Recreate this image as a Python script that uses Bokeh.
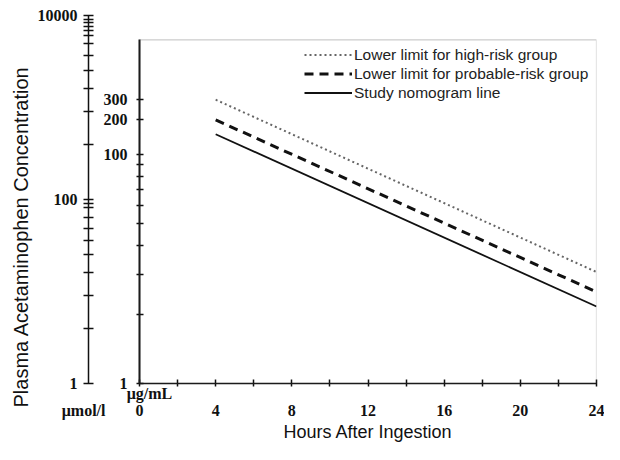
import math
from bokeh.plotting import figure
from bokeh.models import (Range1d, LogScale, LogAxis, FixedTicker, NumeralTickFormatter,
                          BoxAnnotation, Title)
from bokeh.embed import file_html
from bokeh.resources import INLINE

# ---- data ----
hours = [4, 24]
high_risk = [300, 9.4]        # ug/mL, lower limit for high-risk group
probable_risk = [200, 6.3]    # ug/mL, lower limit for probable-risk group
study_line = [150, 4.7]       # ug/mL, study nomogram line

x_ticks = [0, 4, 8, 12, 16, 20, 24]
x_minor = [2, 6, 10, 14, 18, 22]
umol_ticks = [1, 100, 10000]
umol_minor = [4, 9, 16, 25, 36, 49, 64, 81, 90,
              400, 900, 1600, 2500, 3700, 5000, 6000, 6800, 7600, 8400, 9100]
ugml_ticks = [1, 100, 200, 300]
ugml_minor = [4, 9, 16, 25, 36, 49, 64, 81]
unit_ugml = "μg/mL"
unit_umol = "μmol/l"

SERIF = "Liberation Serif"
SANS = "Liberation Sans"
INK = "#111111"
NB = "\u00a0"

p = figure(width=604, height=444, output_backend="svg", toolbar_location=None,
           x_range=Range1d(0, 24), y_range=Range1d(1, 10000),
           y_axis_type="log", y_axis_location=None,
           min_border_left=139, min_border_right=8, min_border_top=15, min_border_bottom=61)
p.outline_line_color = None
p.xgrid.visible = False
p.ygrid.visible = False

p.extra_y_ranges = {"inner": Range1d(1, 1630)}
p.extra_y_scales = {"inner": LogScale()}

# inner (ug/mL) axis, next to the frame
inner = LogAxis(y_range_name="inner",
                ticker=FixedTicker(ticks=ugml_ticks, minor_ticks=ugml_minor),
                formatter=NumeralTickFormatter(format="0"), bounds=(1, 1000))
inner.axis_line_width = 2
inner.axis_line_color = INK
inner.major_tick_in = 4
inner.major_tick_out = 3
inner.minor_tick_in = 4
inner.minor_tick_out = 3
inner.major_tick_line_width = 1.5
inner.minor_tick_line_width = 1.5
inner.major_tick_line_color = INK
inner.minor_tick_line_color = INK
inner.major_label_text_font = SERIF
inner.major_label_text_font_style = "bold"
inner.major_label_text_font_size = "16px"
inner.major_label_text_color = INK
inner.major_label_standoff = 9
# non-breaking spaces only widen the label column so the outer axis sits further left
inner.major_label_overrides = {300: NB * 3 + "300"}
p.add_layout(inner, "left")

# outer (umol/l) axis; trailing non-breaking spaces let the unit line reach past the numbers
outer = LogAxis(ticker=FixedTicker(ticks=umol_ticks, minor_ticks=umol_minor),
                formatter=NumeralTickFormatter(format="0"), bounds=(1, 10000))
outer.axis_line_width = 1.5
outer.axis_line_color = INK
outer.major_tick_in = 5
outer.major_tick_out = 5
outer.minor_tick_in = 5
outer.minor_tick_out = 5
outer.major_tick_line_width = 1.5
outer.minor_tick_line_width = 1.5
outer.major_tick_line_color = INK
outer.minor_tick_line_color = INK
outer.major_label_text_font = SERIF
outer.major_label_text_font_style = "bold"
outer.major_label_text_font_size = "16px"
outer.major_label_text_color = INK
outer.major_label_text_line_height = 1.6
outer.major_label_standoff = -22
outer_labels = {t: str(t) + NB * 7 for t in umol_ticks}
outer_labels[1] = "\n1" + NB * 7 + "\n" + unit_umol
outer.major_label_overrides = outer_labels
p.add_layout(outer, "left")

# y axis title as an outer left title
p.add_layout(Title(text="Plasma Acetaminophen Concentration", align="left", offset=-24,
                   text_font=SANS, text_font_style="normal", text_font_size="20px",
                   text_color=INK, standoff=5), "left")

# x axis
xa = p.xaxis[0]
xa.ticker = FixedTicker(ticks=x_ticks, minor_ticks=x_minor)
xa.axis_line_width = 1.5
xa.axis_line_color = INK
xa.major_tick_in = 4
xa.major_tick_out = 3
xa.minor_tick_in = 4
xa.minor_tick_out = 3
xa.major_tick_line_color = INK
xa.minor_tick_line_color = INK
xa.major_tick_line_width = 1.5
xa.minor_tick_line_width = 1.5
xa.major_label_text_font = SERIF
xa.major_label_text_font_style = "bold"
xa.major_label_text_font_size = "16px"
xa.major_label_text_color = INK
xa.major_label_text_line_height = 1.0
xa.major_label_standoff = -2
x_labels = {t: "\n" + str(t) for t in x_ticks}
x_labels[0] = NB * 5 + unit_ugml + "\n0"
xa.major_label_overrides = x_labels
xa.axis_label = "Hours After Ingestion"
xa.axis_label_text_font = SANS
xa.axis_label_text_font_style = "normal"
xa.axis_label_text_font_size = "18px"
xa.axis_label_text_color = INK
xa.axis_label_standoff = 0

# box around the inner plotting area
p.add_layout(BoxAnnotation(left=0, right=24, bottom=1, top=1000, y_range_name="inner",
                           fill_alpha=0, line_color="#555555", line_width=1.2))

# nomogram lines
p.line(hours, high_risk, y_range_name="inner", line_color="#666666", line_width=2,
       line_dash="2 3", legend_label="Lower limit for high-risk group")
p.line(hours, probable_risk, y_range_name="inner", line_color=INK, line_width=3,
       line_dash="9 6", legend_label="Lower limit for probable-risk group")
p.line(hours, study_line, y_range_name="inner", line_color=INK, line_width=1.8,
       legend_label="Study nomogram line")

leg = p.legend[0]
leg.location = (165, 281)
leg.border_line_color = None
leg.background_fill_alpha = 0
leg.padding = 0
leg.margin = 0
leg.spacing = 0
leg.glyph_width = 48
leg.glyph_height = 19
leg.label_height = 19
leg.label_standoff = 2
leg.label_text_font = SANS
leg.label_text_font_size = "15.5px"
leg.label_text_color = "#222222"

open("out.html", "w").write(file_html(p, INLINE))
